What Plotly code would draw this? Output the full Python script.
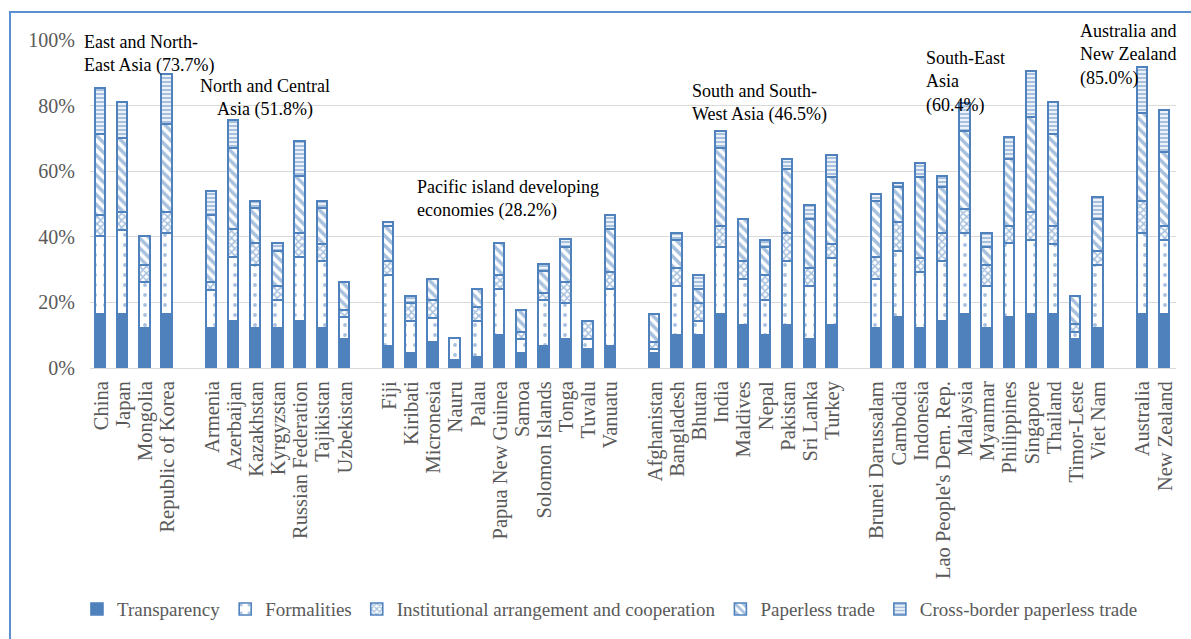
import plotly.graph_objects as go

# ---------------- data ----------------
groups = [
    ["China", "Japan", "Mongolia", "Republic of Korea"],
    ["Armenia", "Azerbaijan", "Kazakhstan", "Kyrgyzstan", "Russian Federation", "Tajikistan", "Uzbekistan"],
    ["Fiji", "Kiribati", "Micronesia", "Nauru", "Palau", "Papua New Guinea", "Samoa", "Solomon Islands",
     "Tonga", "Tuvalu", "Vanuatu"],
    ["Afghanistan", "Bangladesh", "Bhutan", "India", "Maldives", "Nepal", "Pakistan", "Sri Lanka", "Turkey"],
    ["Brunei Darussalam", "Cambodia", "Indonesia", "Lao People's Dem. Rep.", "Malaysia", "Myanmar",
     "Philippines", "Singapore", "Thailand", "Timor-Leste", "Viet Nam"],
    ["Australia", "New Zealand"],
]

transparency = [16.1, 16.1, 11.8, 16.1,
                11.8, 14.0, 11.8, 11.8, 14.0, 11.8, 8.6,
                6.5, 4.3, 7.5, 2.2, 3.2, 9.7, 4.3, 6.5, 8.6, 5.4, 6.5,
                4.3, 9.7, 9.7, 16.1, 12.9, 9.7, 12.9, 8.6, 12.9,
                11.8, 15.1, 11.8, 14.0, 16.1, 11.8, 15.1, 16.1, 16.1, 8.6, 11.8,
                16.1, 16.1]
formalities = [23.7, 25.8, 14.0, 24.7,
               11.8, 19.4, 19.4, 8.6, 19.4, 20.4, 6.5,
               21.5, 9.7, 7.5, 6.5, 10.8, 14.0, 4.3, 14.0, 10.8, 3.2, 17.2,
               1.1, 15.1, 4.3, 20.4, 14.0, 10.8, 19.4, 16.1, 20.4,
               15.1, 20.4, 17.2, 18.3, 24.7, 12.9, 22.6, 22.6, 21.5, 2.2, 19.4,
               24.7, 22.6]
institutional = [6.5, 5.4, 5.4, 6.5,
                 2.2, 8.6, 6.5, 4.3, 7.5, 5.4, 2.2,
                 4.3, 5.4, 5.4, 0, 4.3, 4.3, 2.2, 2.2, 6.5, 5.4, 5.4,
                 2.2, 5.4, 5.4, 6.5, 5.4, 7.5, 8.6, 5.4, 4.3,
                 6.5, 8.6, 4.3, 8.6, 7.5, 6.5, 5.4, 8.6, 5.4, 2.2, 4.3,
                 9.7, 4.3]
paperless = [24.7, 22.6, 8.6, 26.9,
             20.4, 24.7, 10.8, 10.8, 17.2, 10.8, 8.6,
             10.8, 0, 6.5, 0, 5.4, 9.7, 6.5, 6.5, 10.8, 0, 12.9,
             8.6, 8.6, 4.3, 23.7, 12.9, 8.6, 19.4, 15.1, 20.4,
             17.2, 10.8, 24.7, 14.0, 23.7, 5.4, 20.4, 29.0, 28.0, 8.6, 9.7,
             26.9, 22.6]
crossborder = [14.0, 10.8, 0, 15.1,
               7.5, 8.6, 2.2, 2.2, 10.8, 2.2, 0,
               1.1, 2.2, 0, 0, 0, 0, 0, 2.2, 2.2, 0, 4.3,
               0, 2.2, 4.3, 5.4, 0, 2.2, 3.2, 4.3, 6.5,
               2.2, 1.1, 4.3, 3.2, 8.6, 4.3, 6.5, 14.0, 9.7, 0, 6.5,
               14.0, 12.9]

series_names = ["Transparency", "Formalities", "Institutional arrangement and cooperation",
                "Paperless trade", "Cross-border paperless trade"]

group_labels = ["East and North-<br>East Asia (73.7%)",
                "North and Central<br>Asia (51.8%)",
                "Pacific island developing<br>economies (28.2%)",
                "South and South-<br>West Asia (46.5%)",
                "South-East<br>Asia<br>(60.4%)",
                "Australia and<br>New Zealand<br>(85.0%)"]

y_ticks = [0, 20, 40, 60, 80, 100]

# ---------------- positions (one empty slot between groups) ----------------
names, xpos = [], []
slot = 0
for g in groups:
    for c in g:
        names.append(c)
        xpos.append(slot)
        slot += 1
    slot += 1

BLUE = "#4F81BD"
styles = [
    dict(color=BLUE, pattern=None),
    dict(color="white", pattern=dict(shape=".", fgcolor=BLUE, bgcolor="white", size=10, solidity=0.12)),
    dict(color="white", pattern=dict(shape="x", fgcolor=BLUE, bgcolor="white", size=5, solidity=0.55)),
    dict(color="white", pattern=dict(shape="\\", fgcolor=BLUE, bgcolor="white", size=7, solidity=0.5)),
    dict(color="white", pattern=dict(shape="-", fgcolor=BLUE, bgcolor="white", size=4, solidity=0.6)),
]

fig = go.Figure()
for name, vals, st in zip(series_names,
                          [transparency, formalities, institutional, paperless, crossborder],
                          styles):
    marker = dict(color=st["color"], line=dict(color=BLUE, width=1.6))
    if st["pattern"] is not None:
        marker["pattern"] = st["pattern"]
    fig.add_trace(go.Bar(
        x=xpos, y=[v if v else None for v in vals], name=name,
        marker=marker, width=0.47,
    ))

FONT = "Liberation Serif"
PLOT_L, PLOT_W, PLOT_T, PLOT_H = 90, 1086, 40, 328
# group annotations: (left/center pixel x, top pixel y, xanchor, align)
ann_pos = [(82, 30, "left", "left"),
           (265, 74, "center", "center"),
           (415, 175, "left", "left"),
           (690, 79, "left", "left"),
           (924, 46, "left", "left"),
           (1078, 19, "left", "left")]
for (px, py, xa, al), txt in zip(ann_pos, group_labels):
    fig.add_annotation(x=(px - PLOT_L) / PLOT_W, y=1 - (py - PLOT_T) / PLOT_H,
                       xref="paper", yref="paper", text=txt, showarrow=False,
                       xanchor=xa, yanchor="top", align=al,
                       font=dict(family=FONT, size=18, color="black"))

# outer frame
fig.add_shape(type="rect", xref="paper", yref="paper",
              x0=(10 - PLOT_L) / PLOT_W, x1=1.2, y0=-1.2, y1=1 + 28 / PLOT_H,
              line=dict(color="#5B8FD0", width=2), fillcolor="rgba(0,0,0,0)", layer="below")

fig.update_layout(
    width=1191, height=639,
    barmode="stack", bargap=0,
    plot_bgcolor="white", paper_bgcolor="white",
    margin=dict(l=PLOT_L, r=1191 - PLOT_L - PLOT_W, t=PLOT_T, b=639 - PLOT_T - PLOT_H, autoexpand=False),
    font=dict(family=FONT, color="#595959"),
    showlegend=True,
    legend=dict(orientation="h", x=-0.012, xanchor="left", y=-0.735, yanchor="middle",
                font=dict(family=FONT, size=19, color="#595959"), traceorder="normal",
                itemclick=False, itemwidth=30),
    xaxis=dict(tickvals=xpos, ticktext=names, tickangle=-90, range=[-0.5, xpos[-1] + 0.5],
               showgrid=False, showline=True, linecolor="#D9D9D9", linewidth=1,
               tickfont=dict(family=FONT, size=20.5, color="#595959"), ticks="", ticklabelstandoff=4),
    yaxis=dict(range=[0, 100], tickvals=y_ticks, ticktext=[f"{t}%" for t in y_ticks],
               showgrid=True, gridcolor="#D9D9D9", gridwidth=1, zeroline=False,
               tickfont=dict(family=FONT, size=20, color="#595959"), ticks="", ticklabelstandoff=14),
)

fig.write_html("out.html")
